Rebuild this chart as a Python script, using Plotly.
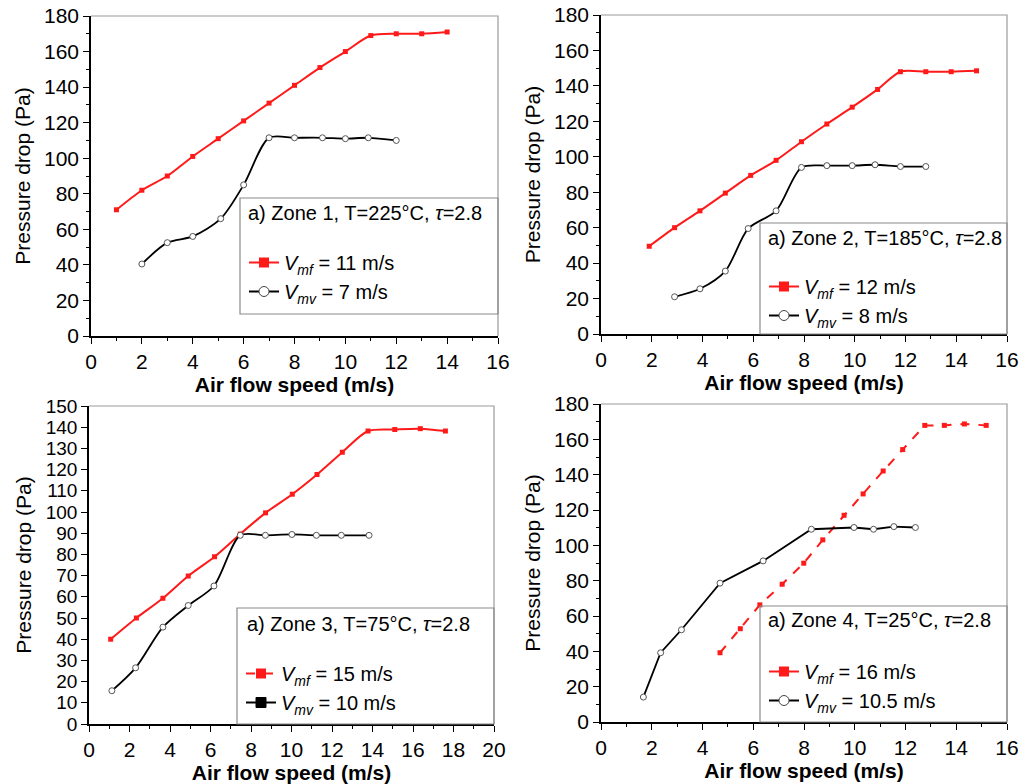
import plotly.graph_objects as go

# ---------------- data ----------------
z1_red_x = [1, 2, 3, 4, 5, 6, 7, 8, 9, 10, 11, 12, 13, 14]
z1_red_y = [71, 82, 90, 101, 111, 121, 131, 141, 151, 160, 169, 170, 170, 171]
z1_blk_x = [2, 3, 4, 5.1, 6, 7, 8, 9.1, 10, 10.9, 12]
z1_blk_y = [40.5, 52.5, 56, 66, 85, 111.5, 111.5, 111.5, 111, 111.5, 110]

z2_red_x = [1.9, 2.9, 3.9, 4.9, 5.9, 6.9, 7.9, 8.9, 9.9, 10.9, 11.8, 12.8, 13.8, 14.8]
z2_red_y = [49.5, 60, 69.5, 79.5, 89.5, 98, 108.5, 118.5, 128, 138, 148, 148, 148, 148.5]
z2_blk_x = [2.9, 3.9, 4.9, 5.8, 6.9, 7.9, 8.9, 9.9, 10.8, 11.8, 12.8]
z2_blk_y = [21, 25.5, 35.5, 59.5, 69.5, 94, 95, 95, 95.5, 94.5, 94.5]

z3_red_x = [1.07, 2.34, 3.65, 4.9, 6.2, 7.47, 8.72, 10.04, 11.26, 12.51, 13.78, 15.1, 16.36, 17.6]
z3_red_y = [40, 50, 59.3, 69.8, 78.9, 89.6, 99.6, 108.4, 117.7, 128.2, 138.2, 138.9, 139.3, 138.2]
z3_blk_x = [1.13, 2.3, 3.65, 4.9, 6.17, 7.47, 8.71, 10.02, 11.23, 12.46, 13.83]
z3_blk_y = [15.7, 26.5, 45.7, 55.9, 65.1, 89, 89, 89.4, 89, 89, 89]

z4_red_x = [4.69, 5.49, 6.26, 7.14, 7.99, 8.74, 9.58, 10.33, 11.12, 11.89, 12.76, 13.53, 14.32, 15.18]
z4_red_y = [39.2, 52.8, 66.3, 78, 89.9, 103.1, 117, 129.1, 142.1, 154.2, 167.9, 167.9, 168.7, 167.9]
z4_blk_x = [1.67, 2.35, 3.17, 4.69, 6.39, 8.29, 9.97, 10.74, 11.54, 12.39]
z4_blk_y = [14.1, 39.2, 52.2, 78.6, 91.2, 109.1, 110.1, 109.1, 110.6, 110.1]

titles = ["a) Zone 1, T=225°C, <i>τ</i>=2.8",
          "a) Zone 2, T=185°C, <i>τ</i>=2.8",
          "a) Zone 3, T=75°C, <i>τ</i>=2.8",
          "a) Zone 4, T=25°C, <i>τ</i>=2.8"]
mf_labels = ["11 m/s", "12 m/s", "15 m/s", "16 m/s"]
mv_labels = ["7 m/s", "8 m/s", "10 m/s", "10.5 m/s"]

x_ranges = [[0, 16], [0, 16], [0, 20], [0, 16]]
y_ranges = [[0, 180], [0, 180], [0, 150], [0, 180]]
y_dticks = [20, 20, 10, 20]

# ---------------- layout helpers ----------------
W, H = 1021, 784
def px(x):
    return x / W
def py(y):
    return 1 - y / H

# plot area boxes in pixels (left, top, right, bottom)
boxes = [(91, 16, 498, 336), (601, 15, 1007, 334), (89, 406, 494, 724), (601, 404, 1007, 722)]
leg_boxes = [(240, 198, 498, 314), (760, 223, 1007, 334), (237, 608, 494, 724), (760, 606, 1007, 722)]
title_pos = [(246, 213), (766, 238), (245, 624), (766, 620)]
leg_pos = [(244, 243), (764, 267), (241, 654), (764, 652)]

RED = "#ff1a1a"
FONT = "Liberation Sans, Arial, sans-serif"

fig = go.Figure()

data = [
    (z1_red_x, z1_red_y, z1_blk_x, z1_blk_y, "spline", "solid", "spline"),
    (z2_red_x, z2_red_y, z2_blk_x, z2_blk_y, "spline", "solid", "spline"),
    (z3_red_x, z3_red_y, z3_blk_x, z3_blk_y, "spline", "solid", "spline"),
    (z4_red_x, z4_red_y, z4_blk_x, z4_blk_y, "linear", "dash", "linear"),
]

for i, (rx, ry, bx, by, rshape, rdash, bshape) in enumerate(data):
    n = "" if i == 0 else str(i + 1)
    xa, ya = "x" + n, "y" + n
    lg = "legend" + n
    fig.add_trace(go.Scatter(x=rx, y=ry, mode="lines+markers", xaxis=xa, yaxis=ya,
                             line=dict(color=RED, width=2, shape=rshape, dash=rdash, smoothing=0.8),
                             marker=dict(symbol="square", size=5, color=RED),
                             showlegend=False))
    fig.add_trace(go.Scatter(x=bx, y=by, mode="lines+markers", xaxis=xa, yaxis=ya,
                             line=dict(color="black", width=1.8, shape=bshape, smoothing=0.8),
                             marker=dict(symbol="circle", size=6, color="white",
                                         line=dict(color="#555", width=1)),
                             showlegend=False))
    # legend-only entries
    if i == 2:
        red_leg_dash, blk_sym, blk_fill, blk_line = "dashdot", "square", "black", "black"
    else:
        red_leg_dash, blk_sym, blk_fill, blk_line = "solid", "circle", "white", "#444"
    fig.add_trace(go.Scatter(x=[None], y=[None], mode="lines+markers", xaxis=xa, yaxis=ya,
                             line=dict(color=RED, width=2, dash=red_leg_dash),
                             marker=dict(symbol="square", size=10, color=RED),
                             name="<i>V</i><sub><i>mf</i></sub> = " + mf_labels[i],
                             legend=lg, showlegend=True))
    fig.add_trace(go.Scatter(x=[None], y=[None], mode="lines+markers", xaxis=xa, yaxis=ya,
                             line=dict(color="black", width=2),
                             marker=dict(symbol=blk_sym, size=10, color=blk_fill,
                                         line=dict(color=blk_line, width=1)),
                             name="<i>V</i><sub><i>mv</i></sub> = " + mv_labels[i],
                             legend=lg, showlegend=True))

layout = dict(width=W, height=H, margin=dict(l=0, r=0, t=0, b=0, autoexpand=False),
              paper_bgcolor="white", plot_bgcolor="white",
              font=dict(family=FONT, size=20, color="black"),
              shapes=[], annotations=[])

for i in range(4):
    n = "" if i == 0 else str(i + 1)
    L, T, R, B = boxes[i]
    ytf = 19 if i == 2 else 21
    layout["xaxis" + n] = dict(
        domain=[px(L), px(R)], anchor="y" + n, range=x_ranges[i], dtick=2, tick0=0,
        showgrid=False, zeroline=False, showline=True, linecolor="black", linewidth=1.5,
        ticks="outside", ticklen=6, tickwidth=1.3, tickcolor="black",
        minor=dict(ticks="outside", ticklen=3, dtick=1, tickcolor="black", tickwidth=1.2, showgrid=False),
        tickfont=dict(size=21, family=FONT),
        title=dict(text="<b>Air flow speed (m/s)</b>", font=dict(size=21, family=FONT), standoff=1),
    )
    yminor = dict(ticks="outside", ticklen=3, dtick=10, tickcolor="black", tickwidth=1.2, showgrid=False) \
        if i != 2 else dict(ticks="")
    layout["yaxis" + n] = dict(
        domain=[py(B), py(T)], anchor="x" + n, range=y_ranges[i], dtick=y_dticks[i], tick0=0,
        showgrid=False, zeroline=False, showline=True, linecolor="black", linewidth=1.5,
        ticks="outside", ticklen=6, tickwidth=1.3, tickcolor="black",
        minor=yminor,
        tickfont=dict(size=ytf, family=FONT),
        title=dict(text="Pressure drop (Pa)", font=dict(size=21, family=FONT), standoff=8),
    )
    # gray frame top/right
    layout["shapes"].append(dict(type="path", xref="paper", yref="paper",
                                 path=f"M {px(L)},{py(T)} L {px(R)},{py(T)} L {px(R)},{py(B)}",
                                 line=dict(color="#9a9a9a", width=1.2), layer="below"))
    # legend box
    lL, lT, lR, lB = leg_boxes[i]
    layout["shapes"].append(dict(type="rect", xref="paper", yref="paper",
                                 x0=px(lL), x1=px(lR), y0=py(lB), y1=py(lT),
                                 line=dict(color="#8a8a8a", width=1.2), fillcolor="rgba(0,0,0,0)"))
    tx, ty = title_pos[i]
    layout["annotations"].append(dict(text=titles[i], xref="paper", yref="paper",
                                      x=px(tx), y=py(ty), xanchor="left", yanchor="middle",
                                      showarrow=False, font=dict(size=20, family=FONT)))
    gx, gy = leg_pos[i]
    layout["legend" + n] = dict(x=px(gx), y=py(gy), xanchor="left", yanchor="top",
                                bgcolor="rgba(0,0,0,0)", borderwidth=0,
                                font=dict(size=20, family=FONT), tracegroupgap=0,
                                itemclick=False)

fig.update_layout(**layout)
fig.write_html("out.html", config={"displayModeBar": False},
               post_script="document.body.style.margin='0';document.body.style.overflow='hidden';")
